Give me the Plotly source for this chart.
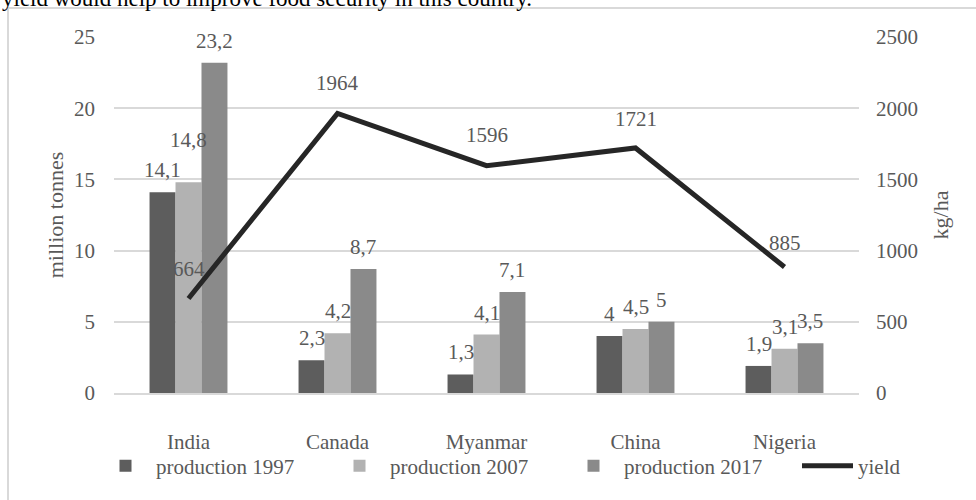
import plotly.graph_objects as go

countries = ["India", "Canada", "Myanmar", "China", "Nigeria"]
prod_1997 = [14.1, 2.3, 1.3, 4.0, 1.9]
prod_2007 = [14.8, 4.2, 4.1, 4.5, 3.1]
prod_2017 = [23.2, 8.7, 7.1, 5.0, 3.5]
yield_kg = [664, 1964, 1596, 1721, 885]
series_names = ["production 1997", "production 2007", "production 2017"]
bar_colors = ["#5d5d5d", "#b2b2b2", "#8a8a8a"]
line_color = "#262626"
text_color = "#595959"
FONT = "Times New Roman, Liberation Serif, serif"
FS = 21

W, H = 976, 500
ML, MR, MT, MB = 114, 117, 37, 107
PW, PH = W - ML - MR, H - MT - MB
BARGAP = 0.477
LEGEND_TEXT_X = [157, 391, 625, 859]   # where each legend label starts (px)
ITEMW = 51


def fmt(v):
    return ("%g" % v).replace(".", ",")


def px_x(p):
    return (p - ML) / PW


def px_y(p):
    return (MT + PH - p) / PH


legend_ids = ["legend", "legend2", "legend3", "legend4"]

fig = go.Figure()
all_series = [prod_1997, prod_2007, prod_2017]
for k, (name, vals, col) in enumerate(zip(series_names, all_series, bar_colors)):
    fig.add_trace(go.Bar(x=countries, y=vals, name=name, marker_color=col,
                         marker_line_width=0, legend=legend_ids[k]))

fig.add_trace(go.Scatter(x=countries, y=yield_kg, name="yield", yaxis="y2",
                         mode="lines", line=dict(color=line_color, width=5),
                         legend=legend_ids[3]))

annos = []
bw = (1 - BARGAP) / 3
extra = {(1, 0): 20}
for j, vals in enumerate(all_series):
    for i, v in enumerate(vals):
        annos.append(dict(x=i + (j - 1) * bw, y=v, xref="x", yref="y",
                          text=fmt(v), showarrow=False, yanchor="middle",
                          yshift=22 + extra.get((j, i), 0),
                          font=dict(family=FONT, size=FS, color=text_color)))
yshift_line = [29, 30, 31, 29, 24]
for i, v in enumerate(yield_kg):
    annos.append(dict(x=i, y=v, xref="x", yref="y2", text=str(v),
                      showarrow=False, yanchor="middle", yshift=yshift_line[i],
                      font=dict(family=FONT, size=FS, color=text_color)))

# cut-off document text above the chart
annos.append(dict(x=px_x(0), y=px_y(-2), xref="paper", yref="paper",
                  xanchor="left", yanchor="middle", showarrow=False,
                  text="yield would help to improve food security in this country.",
                  font=dict(family=FONT, size=23, color="#000000")))

# chart frame
shapes = [dict(type="rect", xref="paper", yref="paper",
               x0=px_x(8), x1=px_x(W + 20), y0=px_y(H + 20), y1=px_y(8),
               line=dict(color="#d9d9d9", width=2), fillcolor="rgba(0,0,0,0)",
               layer="below")]

legends = {}
for k, lid in enumerate(legend_ids):
    legends[lid] = dict(orientation="h", xref="container", yref="container",
                        x=(LEGEND_TEXT_X[k] - ITEMW - 11) / W, xanchor="left",
                        y=1 - 466 / H, yanchor="middle",
                        font=dict(family=FONT, size=FS, color=text_color),
                        itemwidth=ITEMW, bgcolor="rgba(0,0,0,0)")

fig.update_layout(
    width=W, height=H,
    margin=dict(l=ML, r=MR, t=MT, b=MB, autoexpand=False),
    paper_bgcolor="white", plot_bgcolor="white",
    barmode="group", bargap=BARGAP, bargroupgap=0,
    font=dict(family=FONT, size=FS, color=text_color),
    xaxis=dict(showgrid=False, ticks="", ticklabelstandoff=29,
               showline=True, linecolor="#d9d9d9", linewidth=2),
    yaxis=dict(range=[0, 25], dtick=5, showgrid=True, gridcolor="#d9d9d9",
               gridwidth=2, zeroline=False, ticks="", ticklabelstandoff=18,
               title=dict(text="million tonnes", standoff=4,
                          font=dict(size=22, color=text_color))),
    yaxis2=dict(range=[0, 2500], dtick=500, overlaying="y", side="right",
                showgrid=False, zeroline=False, ticks="", ticklabelstandoff=16,
                title=dict(text="kg/ha", standoff=15,
                           font=dict(size=22, color=text_color))),
    annotations=annos,
    shapes=shapes,
    showlegend=True,
    **legends,
)

fig.write_html("out.html", config={"displayModeBar": False},
               post_script="document.body.style.margin='0';")
